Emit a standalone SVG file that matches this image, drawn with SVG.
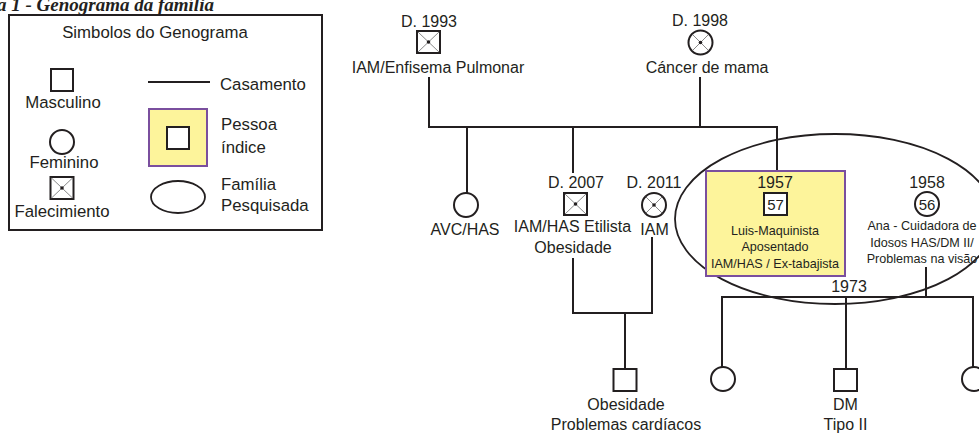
<svg xmlns="http://www.w3.org/2000/svg" width="979" height="433" viewBox="0 0 979 433">
<defs>
<style>
text{font-family:"Liberation Sans",Arial,sans-serif;fill:#231f20;font-size:16px;text-anchor:middle}
.lg{font-size:16.8px}
.st{text-anchor:start}
.sm{font-size:12.6px}
.title{font-family:"Liberation Serif","Times New Roman",serif;font-weight:bold;font-style:italic;font-size:19px;text-anchor:start}
.ln{stroke:#231f20;stroke-width:2;fill:none}
.sym{stroke:#231f20;stroke-width:2;fill:#fff}
.x{stroke:#555;stroke-width:0.7;fill:none}
.idx{fill:#fdf49b;stroke:#7a4f9e;stroke-width:2}
.fam{fill:none;stroke:#231f20;stroke-width:1.8}
</style>
<g id="deadsq"><rect class="sym" x="-11.5" y="-11" width="23" height="22"/><path class="x" d="M-10.5-10L10.5 10M10.5-10L-10.5 10"/><circle r="1.8" fill="#231f20"/></g>
<g id="deadci"><circle class="sym" r="12"/><path class="x" d="M-8.5-8.5L8.5 8.5M8.5-8.5L-8.5 8.5"/><circle r="1.8" fill="#231f20"/></g>
</defs>
<rect width="979" height="433" fill="#fff"/>
<text class="title" x="-3" y="11">a 1 - Genograma da família</text>

<g id="legend">
<rect x="9" y="15" width="313" height="215" fill="#fff" stroke="#231f20" stroke-width="2"/>
<text class="lg" x="155" y="38">Simbolos do Genograma</text>
<rect class="sym" x="51" y="69" width="22" height="22"/>
<text class="lg" x="63" y="108">Masculino</text>
<circle class="sym" cx="62" cy="142" r="12"/>
<text class="lg" x="64" y="168">Feminino</text>
<use href="#deadsq" x="62" y="188"/>
<text class="lg" x="62" y="217">Falecimiento</text>
<line class="ln" x1="148" y1="82" x2="210" y2="82"/>
<text class="lg st" x="220" y="90">Casamento</text>
<rect class="idx" x="149" y="109" width="58" height="57"/>
<rect class="sym" x="167" y="127" width="22" height="22"/>
<text class="lg st" x="221" y="130">Pessoa</text>
<text class="lg st" x="221" y="153">índice</text>
<ellipse class="fam" cx="178" cy="197" rx="27" ry="16"/>
<text class="lg st" x="221" y="190">Família</text>
<text class="lg st" x="221" y="211">Pesquisada</text>
</g>

<g id="connectors">
<path class="ln" d="M429 77V127H777V171M700 77V127M467 127V193M573 127V173"/>
<path class="ln" d="M573 258V313H652V237M625 313V369"/>
<path class="ln" d="M926 267V297M722 367V297H973V367M846 297V368"/>
</g>

<g id="family-ellipse"><ellipse class="fam" cx="835" cy="219" rx="160" ry="85"/></g>

<g id="grandfather">
<text x="429" y="27">D. 1993</text>
<use href="#deadsq" x="428.5" y="42"/>
<text x="438" y="73">IAM/Enfisema Pulmonar</text>
</g>
<g id="grandmother">
<text x="700" y="26">D. 1998</text>
<use href="#deadci" x="700.5" y="42.5"/>
<text x="707" y="73">Cáncer de mama</text>
</g>
<g id="aunt">
<circle class="sym" cx="466" cy="205" r="12"/>
<text x="465" y="235">AVC/HAS</text>
</g>
<g id="uncle">
<text x="576" y="188">D. 2007</text>
<use href="#deadsq" x="575.5" y="204"/>
<text x="572.5" y="232">IAM/HAS Etilista</text>
<text x="573" y="253">Obesidade</text>
</g>
<g id="uncle-wife">
<text x="654" y="188">D. 2011</text>
<use href="#deadci" x="654" y="205"/>
<text x="654.5" y="235">IAM</text>
</g>
<g id="luis">
<rect class="idx" x="706" y="171" width="139" height="105"/>
<text x="775" y="188">1957</text>
<rect class="sym" x="764" y="193" width="23" height="22"/>
<text x="775.5" y="210" style="font-size:15px">57</text>
<text class="sm" x="775" y="235">Luis-Maquinista</text>
<text class="sm" x="775" y="251">Aposentado</text>
<text class="sm" x="775" y="268">IAM/HAS / Ex-tabajista</text>
</g>
<g id="ana">
<text x="927" y="188">1958</text>
<circle class="sym" cx="927" cy="204" r="12"/>
<text x="927" y="210" style="font-size:15px">56</text>
<text class="sm" x="922" y="230">Ana - Cuidadora de</text>
<text class="sm" x="922" y="247">Idosos HAS/DM II/</text>
<text class="sm" x="922" y="263">Problemas na visão</text>
</g>
<g id="marriage-1973"><text x="849" y="292">1973</text></g>
<g id="cousin">
<rect class="sym" x="613.5" y="369" width="23" height="22"/>
<text x="626" y="410">Obesidade</text>
<text x="626" y="430">Problemas cardíacos</text>
</g>
<g id="daughter1"><circle class="sym" cx="723" cy="379" r="12"/></g>
<g id="son"><rect class="sym" x="834" y="369" width="23" height="22"/>
<text x="845.5" y="410">DM</text>
<text x="845.5" y="430">Tipo II</text>
</g>
<g id="daughter2"><circle class="sym" cx="974" cy="379" r="12"/></g>
</svg>
